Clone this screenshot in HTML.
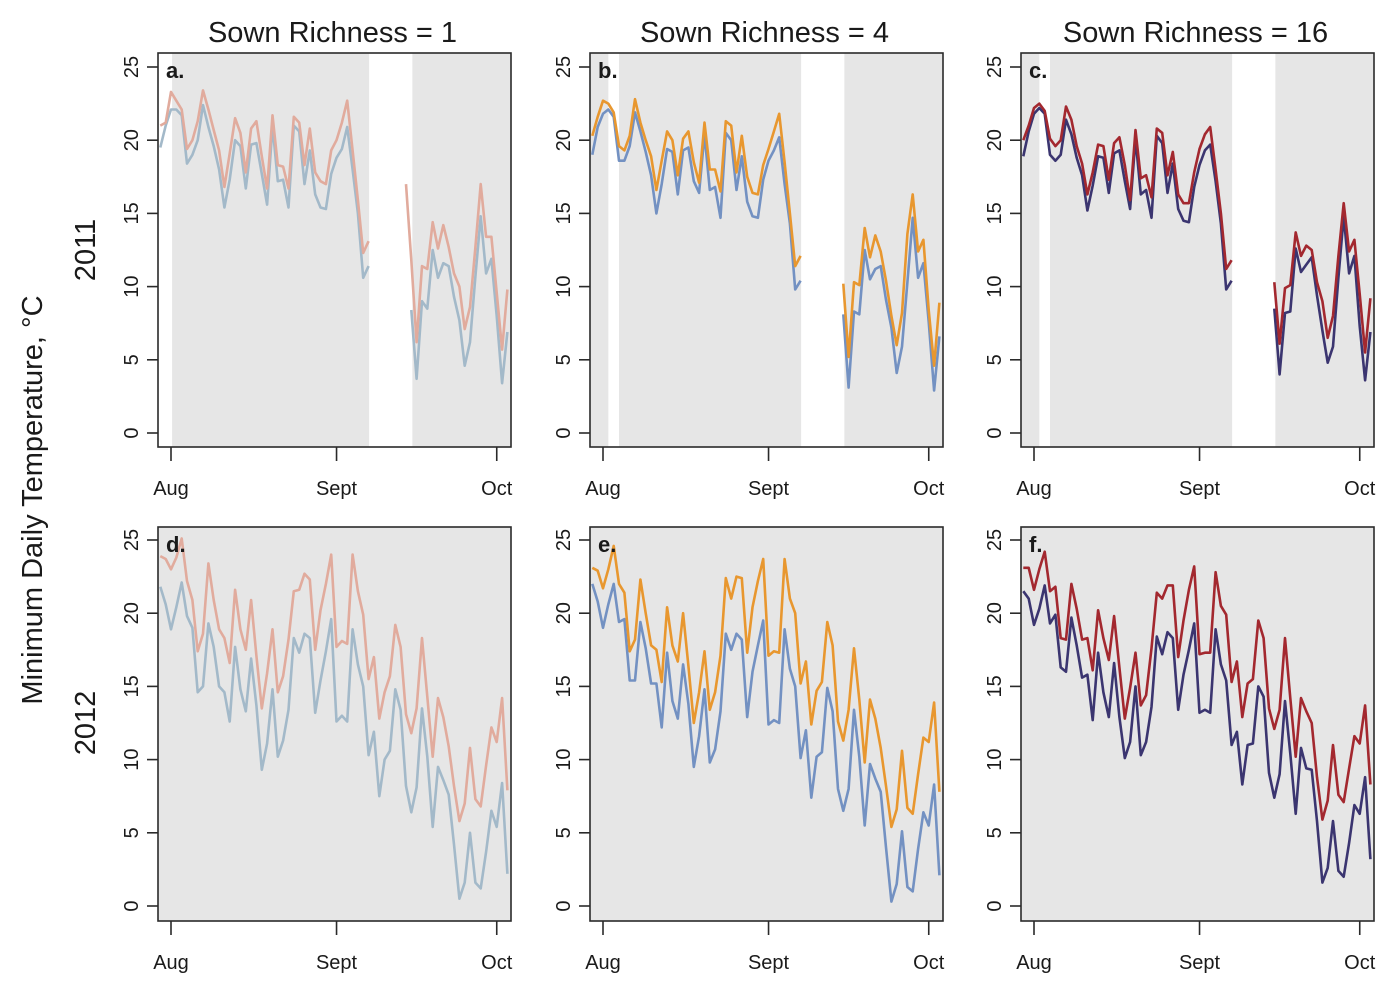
<!DOCTYPE html>
<html><head><meta charset="utf-8"><style>
html,body{margin:0;padding:0;background:#fff;}
svg{display:block;font-family:"Liberation Sans",sans-serif;}
</style></head><body>
<svg id="chart" width="1400" height="1000" viewBox="0 0 1400 1000"></svg>
<script>
// Days from Aug 1: -2 .. 63 (one value per day); null = missing
const days = [];
for (let d = -2; d <= 63; d++) days.push(d);
const yTicks = [0, 5, 10, 15, 20, 25];
const monthLabels = ["Aug", "Sept", "Oct"];
const monthDays = [0, 31, 61];
const colTitles = ["Sown Richness = 1", "Sown Richness = 4", "Sown Richness = 16"];
const rowTitles = ["2011", "2012"];
const panelLetters = ["a.", "b.", "c.", "d.", "e.", "f."];

const N6 = [null,null,null,null,null,null];
const lowA = [19.5,21.0,22.1,22.1,21.7,18.4,19.0,20.0,22.4,20.9,19.6,18.0,15.4,17.3,20.0,19.6,16.7,19.7,19.8,17.7,15.6,21.0,17.2,17.3,15.4,21.0,20.6,17.0,19.3,16.3,15.4,15.3,17.7,18.8,19.4,20.9,18.0,15.0,10.6,11.4,
  null,null,null,null,null,null,null,
  8.4,3.7,9.0,8.5,12.5,10.6,11.6,11.4,9.3,7.7,4.6,6.2,10.7,14.8,10.9,11.9,8.0,3.4,6.9];
const highA = [21.0,21.2,23.3,22.7,22.1,19.4,20.0,21.3,23.4,22.1,20.7,19.3,16.8,19.1,21.5,20.5,17.8,20.8,21.3,18.9,16.7,21.7,18.3,18.2,16.7,21.6,21.2,18.3,20.8,17.8,17.2,17.0,19.3,20.0,21.2,22.7,19.3,15.9,12.3,13.1,
  null,null,null,null,null,null,
  17.0,11.8,6.2,11.4,11.2,14.4,12.6,14.2,12.7,10.9,10.0,7.1,8.6,12.7,17.0,13.4,13.4,9.6,5.7,9.8];
const lowB = [19.0,20.9,21.8,22.1,21.6,18.6,18.6,19.6,21.9,20.6,19.2,17.6,15.0,17.0,19.4,19.2,16.3,19.3,19.5,17.2,16.4,20.4,16.6,16.8,14.7,20.5,20.0,16.6,18.9,15.8,14.8,14.7,17.3,18.6,19.3,20.2,17.0,14.3,9.8,10.4,
  null,null,null,null,null,null,null,
  8.1,3.1,8.3,8.1,12.5,10.5,11.2,11.4,9.1,7.2,4.1,5.9,10.3,14.7,10.6,11.6,7.6,2.9,6.6];
const highB = [20.3,21.6,22.7,22.5,21.9,19.6,19.3,20.3,22.8,21.2,20.0,18.9,16.6,18.6,20.6,20.0,17.6,20.1,20.6,18.5,17.1,21.2,18.0,18.0,16.5,21.3,21.0,17.8,20.3,17.5,16.4,16.3,18.3,19.4,20.6,21.8,18.5,15.0,11.4,12.1,
  null,null,null,null,null,null,null,
  10.2,5.2,10.3,10.1,14.0,12.0,13.5,12.4,10.4,8.0,6.0,8.2,13.6,16.3,12.4,13.2,8.4,4.6,8.9];
const lowC = [18.9,20.6,21.8,22.2,21.8,19.0,18.6,19.0,21.4,20.4,18.8,17.6,15.2,16.9,18.9,18.8,16.4,19.1,19.3,17.2,15.3,20.1,16.3,16.6,14.7,20.3,19.8,16.4,18.4,15.3,14.5,14.4,16.8,18.3,19.3,19.7,17.2,14.3,9.8,10.4,
  null,null,null,null,null,null,null,
  8.5,4.0,8.2,8.3,12.6,11.0,11.5,12.0,9.4,7.0,4.8,5.9,10.6,14.8,10.9,12.1,7.3,3.6,6.9];
const highC = [20.0,21.0,22.2,22.5,22.0,20.1,19.6,20.0,22.3,21.4,19.6,18.4,16.3,17.8,19.7,19.6,17.3,19.8,20.2,18.3,15.9,20.7,17.4,17.6,16.1,20.8,20.5,17.6,19.2,16.3,15.7,15.7,17.8,19.4,20.4,20.9,18.0,15.0,11.2,11.8,
  null,null,null,null,null,null,null,
  10.3,6.1,9.9,10.1,13.7,12.1,12.8,12.5,10.3,9.0,6.5,8.0,12.1,15.7,12.4,13.2,9.5,5.5,9.2];
const lowD = [21.8,20.6,18.9,20.4,22.1,19.8,19.0,14.6,15.0,19.3,17.7,15.0,14.6,12.6,17.7,14.8,13.3,16.9,13.7,9.3,11.1,14.8,10.2,11.3,13.4,18.3,17.3,18.6,18.3,13.2,15.4,17.4,19.6,12.6,13.0,12.6,18.9,16.5,15.0,10.3,11.9,7.5,10.0,10.6,14.8,13.4,8.2,6.4,8.1,13.5,10.2,5.4,9.5,8.6,7.6,4.2,0.5,1.6,5.0,1.6,1.2,3.7,6.5,5.4,8.4,2.2];
const highD = [23.9,23.7,23.0,23.8,25.1,22.2,20.9,17.4,18.6,23.4,20.9,18.9,18.3,16.6,21.6,18.9,17.5,20.9,17.1,13.5,15.9,18.9,14.6,15.7,18.2,21.5,21.6,22.7,22.3,17.5,20.2,22.0,24.0,17.7,18.1,17.9,24.0,21.5,19.9,15.5,17.0,12.8,14.6,15.7,19.2,17.7,13.1,11.8,13.5,18.3,14.3,10.2,14.2,12.9,10.9,8.2,5.8,7.0,10.8,7.3,6.8,9.6,12.2,11.2,14.2,7.9];
const lowE = [22.0,20.8,19.0,20.6,22.0,19.4,19.6,15.4,15.4,19.4,17.6,15.2,15.2,12.2,17.3,14.0,12.8,16.5,13.8,9.5,11.6,14.8,9.8,10.7,13.3,18.6,17.5,18.6,18.2,12.9,16.0,17.8,19.5,12.4,12.7,12.5,18.9,16.2,15.0,10.1,12.0,7.4,10.2,10.5,14.9,13.3,8.0,6.5,8.0,13.4,10.2,5.5,9.7,8.7,7.8,4.0,0.3,1.5,5.1,1.3,1.0,3.9,6.4,5.5,8.3,2.1];
const highE = [23.1,22.9,21.7,23.0,24.6,22.0,21.4,17.4,18.2,22.3,20.0,17.8,17.5,15.3,20.4,17.8,16.7,20.0,16.4,12.5,14.6,17.4,13.4,14.6,17.1,22.4,21.0,22.5,22.4,17.3,20.4,22.2,23.7,17.1,17.4,17.3,23.7,21.0,20.0,15.2,16.7,12.4,14.7,15.3,19.4,17.8,12.6,11.3,13.4,17.6,14.1,9.8,14.1,12.8,10.8,8.2,5.4,6.6,10.6,6.7,6.3,9.0,11.5,11.2,13.9,7.8];
const lowF = [21.5,21.0,19.2,20.3,21.9,19.3,19.9,16.3,16.0,19.7,17.8,15.6,15.8,12.7,17.3,14.6,12.9,16.6,12.9,10.1,11.2,15.0,10.3,11.2,13.6,18.4,17.2,18.7,18.3,13.4,15.8,17.5,19.3,13.2,13.4,13.2,18.9,16.5,15.4,11.0,11.9,8.3,11.0,11.1,15.0,14.3,9.1,7.4,9.0,14.0,10.4,6.3,10.8,9.4,9.3,5.8,1.6,2.6,5.8,2.4,2.0,4.3,6.9,6.3,8.8,3.2];
const highF = [23.1,23.1,21.6,23.0,24.2,21.5,21.8,18.3,18.2,22.0,20.3,18.2,18.3,16.1,20.2,18.3,16.8,19.8,16.3,12.8,14.9,17.3,13.7,14.4,17.6,21.4,21.0,21.9,21.9,17.0,19.5,21.6,23.2,17.2,17.3,17.3,22.8,20.5,19.9,15.3,16.7,12.9,15.2,15.5,19.5,18.3,13.5,12.1,13.4,18.3,14.2,10.2,14.2,13.3,12.5,8.8,5.9,7.2,11.0,7.6,7.1,9.4,11.6,11.1,13.7,8.3];

const panelSeries = [
  [lowA, highA], [lowB, highB], [lowC, highC],
  [lowD, highD], [lowE, highE], [lowF, highF]
];
const lowColors = ["#a3b9c9", "#7391c2", "#3b3570", "#a3b9c9", "#7391c2", "#3b3570"];
const highColors = ["#e1ab9d", "#e8972f", "#a3282f", "#e1ab9d", "#e8972f", "#a3282f"];
// gray background day spans per panel (days), row 2 fully gray
const graySpans = [
  [[0.2, 37.1], [45.2, 64]],
  [[-3, 1], [3, 37.1], [45.2, 64]],
  [[-3, 1], [3, 37.1], [45.2, 64]],
  [[-3, 64]], [[-3, 64]], [[-3, 64]]
];

const NS = "http://www.w3.org/2000/svg";
const svg = document.getElementById("chart");
function mk(tag, attrs, parent) {
  const e = document.createElementNS(NS, tag);
  for (const k in attrs) e.setAttribute(k, attrs[k]);
  (parent || svg).appendChild(e);
  return e;
}
const colLeft = [158, 590, 1021];
const W = 353;
const rowTop = [53, 527];
const H = 394;
const rowZero = [433, 906];
const pxPerUnit = (433 - 67) / 25;
const pxPerDay = 5.34;

function xScale(col, d) { return colLeft[col] + 13 + pxPerDay * d; }
function yScale(row, v) { return rowZero[row] - pxPerUnit * v; }

// col titles
colTitles.forEach((t, c) => {
  const e = mk("text", {x: colLeft[c] + W / 2 - 2, y: 42, "text-anchor": "middle", "font-size": 29, fill: "#1a1a1a"});
  e.textContent = t;
  
  
});
rowTitles.forEach((t, r) => {
  const cy = r === 0 ? 250 : 723;
  const e = mk("text", {x: 0, y: 0, transform: `translate(95,${cy}) rotate(-90)`, "text-anchor": "middle", "font-size": 29, fill: "#1a1a1a"});
  e.textContent = t;
  
  
});
{
  const e = mk("text", {x: 0, y: 0, transform: "translate(42,500) rotate(-90)", "text-anchor": "middle", "font-size": 29, fill: "#1a1a1a"});
  e.textContent = "Minimum Daily Temperature, °C";
  
  
}

for (let p = 0; p < 6; p++) {
  const row = Math.floor(p / 3), col = p % 3;
  const L = colLeft[col], T = rowTop[row];
  const g = mk("g", {});
  
  
  // gray spans
  graySpans[p].forEach(s => {
    const x0 = Math.max(L, xScale(col, s[0]));
    const x1 = Math.min(L + W, xScale(col, s[1]));
    const r = mk("rect", {x: x0, y: T, width: x1 - x0, height: H, fill: "#e6e6e6"}, g);
    
    
  });
  // series
  const [lo, hi] = panelSeries[p];
  [[lo, lowColors[p], 'low-richness-line'], [hi, highColors[p], 'high-line']].forEach(([arr, color, nm]) => {
    let segs = [], cur = [];
    arr.forEach((v, i) => {
      if (v === null || v === undefined) { if (cur.length) segs.push(cur); cur = []; }
      else cur.push([xScale(col, days[i]), yScale(row, v)]);
    });
    if (cur.length) segs.push(cur);
    segs.forEach(sg => {
      const pl = mk("polyline", {points: sg.map(q => q[0].toFixed(1) + "," + q[1].toFixed(1)).join(" "), fill: "none", stroke: color, "stroke-width": 2.6, "stroke-linejoin": "round"}, g);
      
      
    });
  });
  // box
  const bx = mk("rect", {x: L, y: T, width: W, height: H, fill: "none", stroke: "#2a2a2a", "stroke-width": 1.6}, g);
  
  
  // letter
  const lt = mk("text", {x: L + 8, y: T + 25, "font-size": 22, "font-weight": "bold", fill: "#1a1a1a"}, g);
  lt.textContent = panelLetters[p];
  
  
  // y ticks
  yTicks.forEach(v => {
    const y = yScale(row, v);
    const tk = mk("line", {x1: L - 11, x2: L, y1: y, y2: y, stroke: "#2a2a2a", "stroke-width": 1.6}, g);
    
    
    const tl = mk("text", {x: 0, y: 0, transform: `translate(${L - 20},${y}) rotate(-90)`, "text-anchor": "middle", "font-size": 20, fill: "#1a1a1a"}, g);
    tl.textContent = v;
    
    
  });
  // x ticks
  monthDays.forEach((d, i) => {
    const x = xScale(col, d);
    const tk = mk("line", {x1: x, x2: x, y1: T + H, y2: T + H + 14, stroke: "#2a2a2a", "stroke-width": 1.6}, g);
    
    
    const tl = mk("text", {x: x, y: T + H + 48, "text-anchor": "middle", "font-size": 20, fill: "#1a1a1a"}, g);
    tl.textContent = monthLabels[i];
    
    
  });
}
</script>
</body></html>
